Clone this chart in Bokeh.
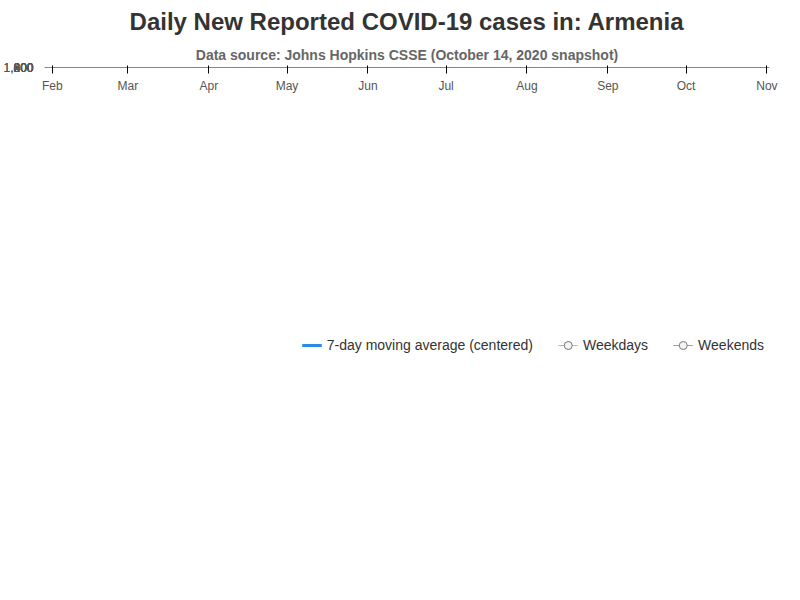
import pandas as pd
from bokeh.plotting import figure
from bokeh.models import (ColumnDataSource, Legend, LegendItem, DatetimeTickFormatter, NumeralTickFormatter,
                          Span, Title, MonthsTicker, Range1d)
from bokeh.embed import file_html
from bokeh.resources import INLINE

mar = [1,0,0,0,0,0,0,0,0,0,0,3,4,10,2,26,18,30,38,7,24,34,41,33,20,25,42,43,57,52,50]
apr = [49,39,92,50,40,60,30,40,35,25,30,40,30,20,35,36,45,30,50,40,40,45,50,40,45,55,40,60,65,70]
may = [80,135,75,115,125,95,165,145,140,135,80,155,180,170,140,350,185,240,230,330,320,375,365,450,290,440,460,350,255,210,520]
jun = [698,595,766,195,350,430,565,610,722,660,400,420,665,460,550,560,320,420,712,770,760,665,735,480,415,520,590,580,660,705]
jul = [330,345,530,525,560,490,180,575,335,510,555,440,460,410,100,275,440,470,455,380,300,70,240,255,350,290,210,50,290,230,200]
aug = [165,195,225,25,165,195,230,280,195,140,210,260,155,175,140,170,40,145,200,130,185,175,110,120,180,175,140,195,190,185,190]
sep = [185,140,60,110,195,110,185,175,155,105,200,170,150,210,230,290,240,230,120,115,210,370,395,430,175,320,400,460,530,540]
oct_ = [570,180,405,670,715,600,720,420,630,700,370,745,1055]

cases = mar + apr + may + jun + jul + aug + sep + oct_
df = pd.DataFrame({"date": pd.date_range("2020-03-01", periods=len(cases)), "cases": cases})
df["zero"] = 0
df["ma"] = df["cases"].rolling(7, center=True).mean()
weekend = df["date"].dt.weekday >= 5
wk = ColumnDataSource(df[~weekend])
we = ColumnDataSource(df[weekend])
dma = df.dropna()

x0 = pd.Timestamp("2020-01-29").value / 1e6
x1 = pd.Timestamp("2020-11-02").value / 1e6
p = figure(width=784, height=584, x_axis_type="datetime", output_backend="svg", toolbar_location=None,
           x_range=Range1d(x0, x1), y_range=Range1d(-20, 1230))
p.title.text = "Daily New Reported COVID-19 cases in: Armenia"
p.title.align = "center"
p.title.text_font_size = "18pt"
p.title.text_color = "#333333"
p.add_layout(Title(text="Data source: Johns Hopkins CSSE (October 14, 2020 snapshot)", align="center",
                   text_font_size="10.5pt", text_color="#666666"), "above")
p.add_layout(Span(location=0, dimension="width", line_color="#4a6fa5", line_width=1.5))

r_wk_seg = p.segment(x0="date", y0="zero", x1="date", y1="cases", source=wk, line_color="#FFB000", line_width=1)
r_we_seg = p.segment(x0="date", y0="zero", x1="date", y1="cases", source=we, line_color="#a0a0a0", line_width=1)
r_wk_pt = p.scatter(x="date", y="cases", source=wk, size=5, fill_color="#f4f4f4", line_color="#777777")
r_we_pt = p.scatter(x="date", y="cases", source=we, size=5, fill_color="#f4f4f4", line_color="#777777")
r_ma = p.line(x="date", y="ma", source=ColumnDataSource(dma), line_color="#2b8ae8", line_width=3)

legend = Legend(items=[
    LegendItem(label="7-day moving average (centered)", renderers=[r_ma]),
    LegendItem(label="Weekdays", renderers=[r_wk_seg, r_wk_pt]),
    LegendItem(label="Weekends", renderers=[r_we_seg, r_we_pt]),
], orientation="horizontal", border_line_color=None, label_text_font_size="10.5pt",
    label_text_color="#333333", spacing=25, margin=5)
p.add_layout(legend, "below")

p.xaxis.ticker = MonthsTicker(months=list(range(1, 13)))
p.xaxis.formatter = DatetimeTickFormatter(months="%b", days="%b")
p.yaxis.ticker = [0, 200, 400, 600, 800, 1000, 1200]
p.yaxis.formatter = NumeralTickFormatter(format="0,0")
p.yaxis.axis_line_color = None
p.yaxis.major_tick_line_color = None
p.yaxis.minor_tick_line_color = None
p.xaxis.minor_tick_line_color = None
p.xaxis.axis_line_color = "#888888"
p.axis.major_label_text_color = "#555555"
p.axis.major_label_text_font_size = "9pt"
p.xgrid.grid_line_color = None
p.ygrid.grid_line_dash = "1 4"
p.ygrid.grid_line_color = "#999999"
p.outline_line_color = None
p.min_border_left = 40
p.min_border_right = 15

open("out.html", "w").write(file_html(p, INLINE))
